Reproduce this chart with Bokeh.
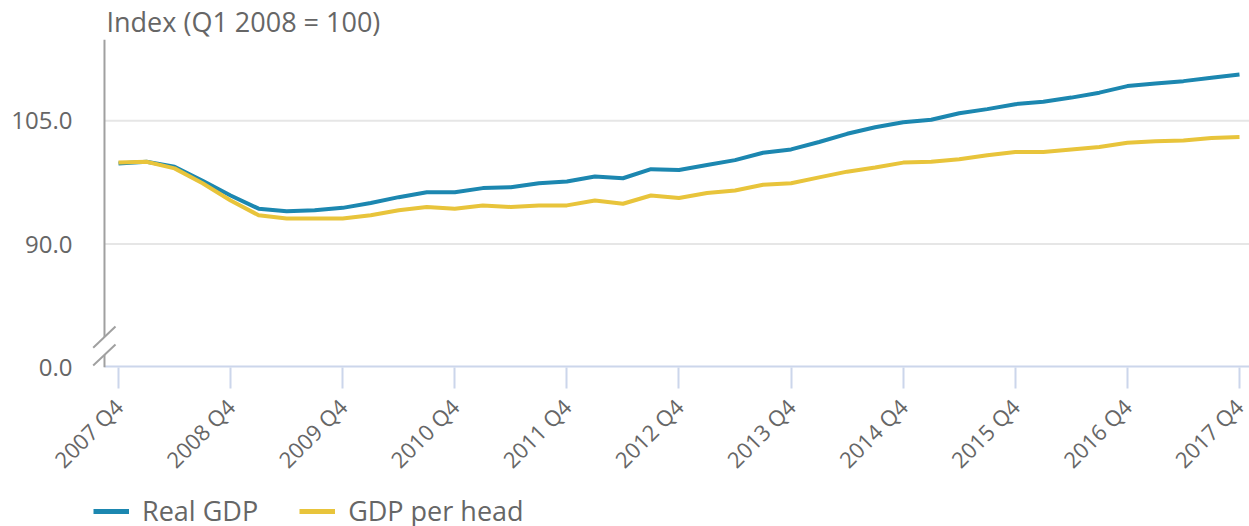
import math
from bokeh.plotting import figure
from bokeh.layouts import column
from bokeh.models import Range1d, FixedTicker, Legend, LegendItem
from bokeh.embed import file_html
from bokeh.resources import INLINE

# ---------------- data ----------------
quarters = ["2007 Q4"] + [f"{y} Q{q}" for y in range(2008, 2018) for q in (1, 2, 3, 4)]

real_gdp = [99.8, 100.0, 99.4, 97.7, 95.9, 94.3, 94.0, 94.1, 94.4, 95.0,
            95.7, 96.3, 96.3, 96.8, 96.9, 97.4, 97.6, 98.2, 98.0, 99.1,
            99.0, 99.6, 100.2, 101.1, 101.5, 102.4, 103.4, 104.2, 104.8, 105.1,
            105.9, 106.4, 107.0, 107.3, 107.8, 108.4, 109.2, 109.5, 109.8, 110.2,
            110.6]

gdp_per_head = [99.9, 100.0, 99.2, 97.4, 95.3, 93.5, 93.1, 93.1, 93.1, 93.5,
                94.1, 94.5, 94.3, 94.7, 94.5, 94.7, 94.7, 95.3, 94.9, 95.9,
                95.6, 96.2, 96.5, 97.2, 97.4, 98.1, 98.8, 99.3, 99.9, 100.0,
                100.3, 100.8, 101.2, 101.2, 101.5, 101.8, 102.3, 102.5, 102.6, 102.9,
                103.0]

x_tick_labels = ["2007 Q4", "2008 Q4", "2009 Q4", "2010 Q4", "2011 Q4", "2012 Q4",
                 "2013 Q4", "2014 Q4", "2015 Q4", "2016 Q4", "2017 Q4"]

y_tick_values = [75.0, 90.0, 105.0]          # 75.0 is the (broken) axis base
y_tick_labels = ["0.0", "90.0", "105.0"]
y_grid_values = [90.0, 105.0]

series_names = ["Real GDP", "GDP per head"]
series_colors = ["#1c87b0", "#e8c43b"]

y_title = "Index (Q1 2008 = 100)"

# ---------------- figure ----------------
FONT = "Open Sans"
TXT = "#666666"
AXIS_GREY = "#a0a0a0"

x = list(range(len(quarters)))
X0, X1 = -0.999, 40.357
Y0, Y1 = 75.0, 114.86
AX = -0.5   # where the y axis line sits (half a quarter before the first point)

H_MAIN = 491
H_LEG = 526 - H_MAIN

p = figure(width=1249, height=H_MAIN, output_backend="svg", toolbar_location=None,
           x_range=Range1d(X0, X1), y_range=Range1d(Y0, Y1),
           min_border_left=90, min_border_right=0, min_border_top=39,
           min_border_bottom=H_MAIN - 367)
p.outline_line_color = None

# title (y-axis caption, top left)
p.title.text = y_title
p.title.align = "left"
p.title.offset = 16
p.title.standoff = 0
p.title.text_font = FONT
p.title.text_font_size = "27px"
p.title.text_font_style = "normal"
p.title.text_color = TXT

# horizontal grid lines (start at the axis line)
for gv in y_grid_values:
    p.segment(x0=AX, y0=gv, x1=X1, y1=gv, line_color="#e6e6e6", line_width=2)

# x axis line (starts at the y axis)
p.segment(x0=AX, y0=Y0, x1=X1, y1=Y0, line_color="#ccd6eb", line_width=4)

# y axis line with a break
p.segment(x0=[AX, AX], y0=[Y0, 78.70], x1=[AX, AX], y1=[76.53, Y1],
          line_color=AXIS_GREY, line_width=2)
# break marks
p.segment(x0=[-0.903, -0.903], y0=[77.39, 75.24], x1=[-0.107, -0.107], y1=[79.98, 77.80],
          line_color=AXIS_GREY, line_width=2)

r1 = p.line(x, real_gdp, line_width=4, line_color=series_colors[0], line_join="round")
r2 = p.line(x, gdp_per_head, line_width=4, line_color=series_colors[1], line_join="round")

# x axis
tick_pos = [quarters.index(l) for l in x_tick_labels]
p.xaxis.ticker = FixedTicker(ticks=tick_pos)
p.xaxis.major_label_overrides = {i: l for i, l in zip(tick_pos, x_tick_labels)}
p.xaxis.major_label_orientation = math.pi / 4
p.xaxis.axis_line_color = None
p.xaxis.major_tick_line_color = "#ccd6eb"
p.xaxis.major_tick_line_width = 2
p.xaxis.major_tick_out = 21
p.xaxis.major_tick_in = 0
p.xaxis.minor_tick_out = 0
p.xaxis.minor_tick_in = 0
p.xaxis.major_label_standoff = 14
p.xaxis.major_label_text_font = FONT
p.xaxis.major_label_text_font_size = "22px"
p.xaxis.major_label_text_color = TXT

# y axis (labels only; line drawn above)
p.yaxis.ticker = FixedTicker(ticks=y_tick_values)
p.yaxis.major_label_overrides = {v: l for v, l in zip(y_tick_values, y_tick_labels)}
p.yaxis.axis_line_color = None
p.yaxis.major_tick_out = 0
p.yaxis.major_tick_in = 0
p.yaxis.minor_tick_out = 0
p.yaxis.minor_tick_in = 0
p.yaxis.major_label_standoff = 18
p.yaxis.major_label_text_font = FONT
p.yaxis.major_label_text_font_size = "24px"
p.yaxis.major_label_text_color = TXT

p.xgrid.visible = False
p.ygrid.visible = False

# ---------------- legend strip ----------------
q = figure(width=1249, height=H_LEG, output_backend="svg", toolbar_location=None,
           x_range=Range1d(0, 1), y_range=Range1d(0, 1),
           x_axis_type=None, y_axis_type=None,
           min_border_left=0, min_border_right=0, min_border_top=0, min_border_bottom=0)
q.outline_line_color = None
q.xgrid.visible = False
q.ygrid.visible = False
nan = float("nan")
l1 = q.line([nan], [nan], line_width=5, line_color=series_colors[0])
l2 = q.line([nan], [nan], line_width=5, line_color=series_colors[1])

legend = Legend(items=[LegendItem(label=series_names[0], renderers=[l1]),
                       LegendItem(label=series_names[1], renderers=[l2])],
                orientation="horizontal", location=(3, -3),
                padding=0, margin=0, spacing=41,
                glyph_width=36, glyph_height=20, label_standoff=13,
                label_text_font=FONT, label_text_font_size="27px",
                label_text_color=TXT, border_line_color=None,
                background_fill_alpha=0)
q.add_layout(legend)

layout = column(p, q, spacing=0)
open("out.html", "w").write(file_html(layout, INLINE))
